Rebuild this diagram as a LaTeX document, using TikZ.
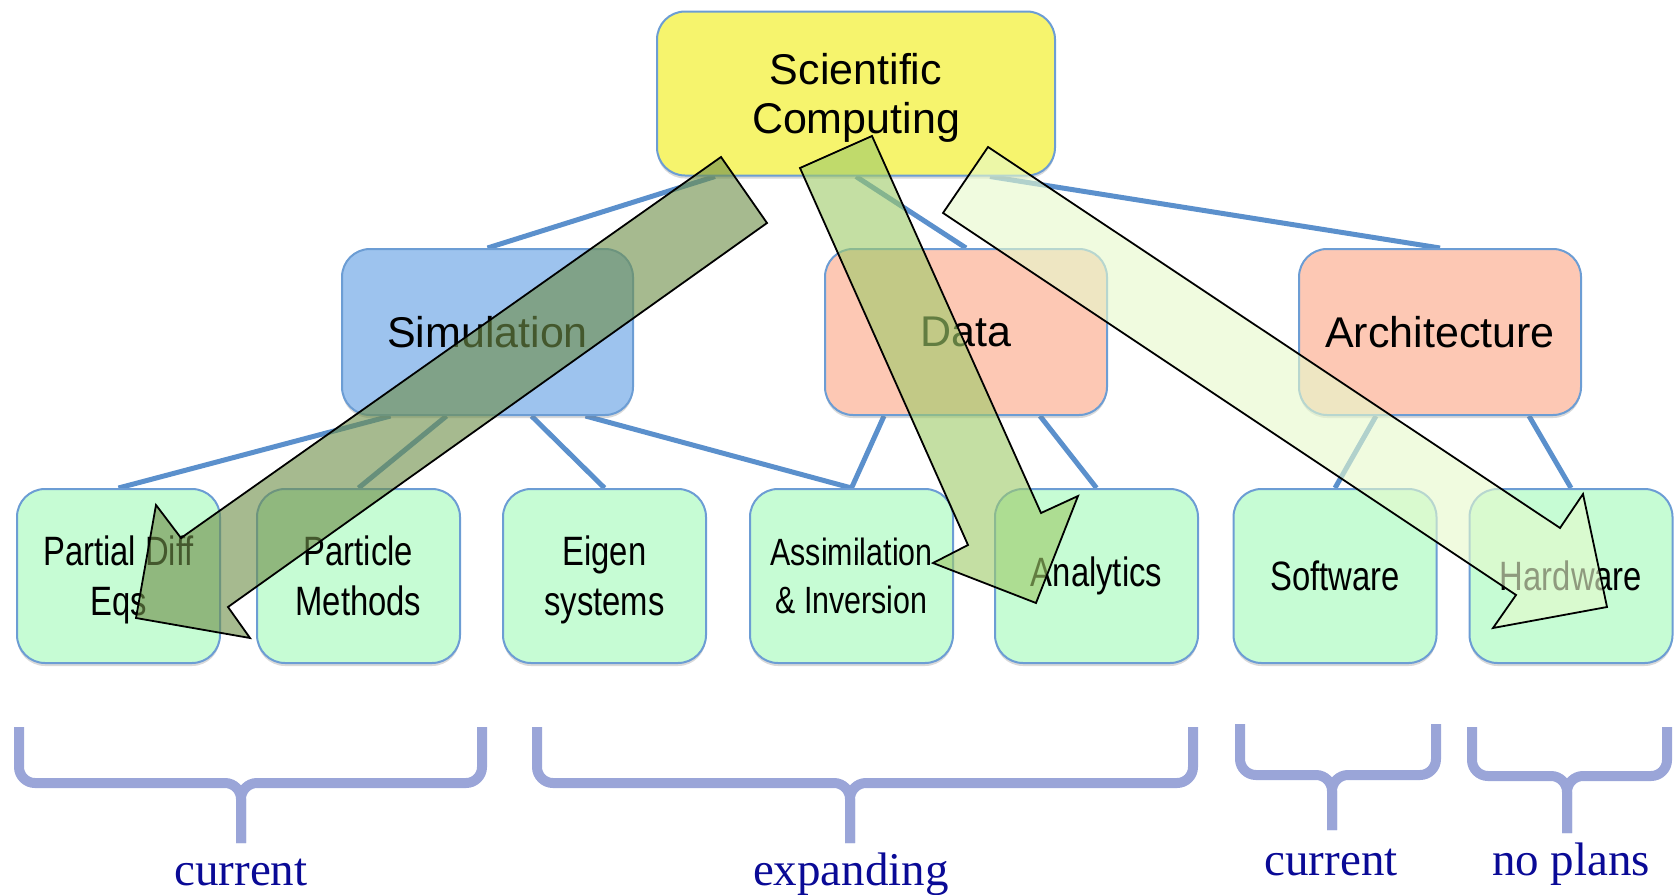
\documentclass[tikz,border=0pt]{standalone}
\usepackage{fontspec}
\setmainfont{Liberation Serif}
\newfontfamily\boxfont{Liberation Sans}
\newfontfamily\narrowfont[FakeStretch=0.8]{Liberation Sans}
\usetikzlibrary{backgrounds,shadows}
\definecolor{boxline}{HTML}{6C9DD4}
\definecolor{edgeblue}{HTML}{5B90CC}
\definecolor{topyellow}{HTML}{F6F46D}
\definecolor{simblue}{HTML}{9DC3EE}
\definecolor{salmon}{HTML}{FDC8B4}
\definecolor{leafgreen}{HTML}{C6FCD4}
\definecolor{arrowdark}{HTML}{6F8F4A}
\definecolor{arrowmid}{HTML}{9FCB6A}
\definecolor{arrowpale}{HTML}{E6F9CC}
\definecolor{bracecol}{HTML}{9AA5D8}
\definecolor{tagblue}{HTML}{0A0A96}

\begin{document}
\begin{tikzpicture}[x=1pt,y=-1pt,
box/.style={draw=boxline,line width=2pt,rounded corners=28pt,align=center,inner sep=0pt,
  drop shadow={shadow xshift=0pt,shadow yshift=-3pt,opacity=0.3}},
topbox/.style={box,fill=topyellow,minimum width=398pt,minimum height=164pt,
  font=\boxfont\fontsize{43}{49}\selectfont},
midbox/.style={box,minimum width=282pt,minimum height=166pt,
  font=\boxfont\fontsize{43}{49}\selectfont},
leaf/.style={box,fill=leafgreen,minimum width=203pt,minimum height=174pt,
  font=\narrowfont\fontsize{41}{50}\selectfont},
link/.style={draw=edgeblue,line width=5pt},
bigarrow/.style={draw=black,line width=1.8pt,line join=miter,fill opacity=0.62},
brace/.style={draw=bracecol,line width=10pt,rounded corners=16pt},
tag/.style={text=tagblue,font=\fontsize{47}{50}\selectfont,anchor=base}]
\useasboundingbox (0,0) rectangle (1677,894);

\node[topbox] (sc) at (856,93.5) {Scientific\\\smash{Computing}};
\node[midbox,fill=simblue,minimum width=291pt] (sim) at (487.5,332) {Simulation};
\node[midbox,fill=salmon] (dat) at (966,332) {Data};
\node[midbox,fill=salmon] (arch) at (1440,332) {Architecture};

\node[leaf] (pde) at (118.5,576) {Partial Diff\\\smash{Eqs}};
\node[leaf] (part) at (358.5,576) {Particle\\Methods};
\node[leaf] (eig) at (604.5,576) {Eigen\\\smash{systems}};
\node[leaf,font=\narrowfont\fontsize{38}{48}\selectfont] (assim) at (851.5,576) {Assimilation\\\& Inversion};
\node[leaf] (anal) at (1096.5,576) {Analytics};
\node[leaf] (soft) at (1335,576) {Software};
\node[leaf] (hard) at (1571,576) {Hardware};

\begin{scope}[on background layer]
\path[link]
([xshift=-141pt]sc.south) edge (sim.north)
(sc.south) edge (dat.north)
([xshift=134pt]sc.south) edge (arch.north)
([xshift=-97pt]sim.south) edge (pde.north)
([xshift=-41pt]sim.south) edge (part.north)
([xshift=44pt]sim.south) edge (eig.north)
([xshift=98pt]sim.south) edge (assim.north)
([xshift=-82pt]dat.south) edge (assim.north)
([xshift=74pt]dat.south) edge (anal.north)
([xshift=-64pt]arch.south) edge (soft.north)
([xshift=89pt]arch.south) edge (hard.north);
\end{scope}

% block arrows over the tree
\draw[bigarrow,fill=arrowdark] (721,157) -- (181,538) -- (156,505) -- (136,618)
  -- (250,638) -- (228,607) -- (767,223) -- cycle;
\draw[bigarrow,fill=arrowmid] (872,136) -- (1041,513) -- (1078,496) -- (1036,603)
  -- (933,563) -- (968,545) -- (800,168) -- cycle;
\draw[bigarrow,fill=arrowpale] (988,147) -- (1560,528) -- (1583,494) -- (1607,607)
  -- (1493,628) -- (1516,595) -- (943,213) -- cycle;

\foreach \lx/\rx/\ty/\by/\mx/\ey in {19/482/727/783/241/843, 537/1193/727/783/850/843,
  1240/1436/724/775/1332/830, 1472/1667/727/776/1567/833}{
  \draw[brace] (\lx,\ty) -- (\lx,\by) -- (\mx,\by) -- (\mx,\ey);
  \draw[brace] (\rx,\ty) -- (\rx,\by) -- (\mx,\by) -- (\mx,\ey);
}

\node[tag] (cur1) at (241,885) {current};
\node[tag] (expd) at (851,885) {expanding};
\node[tag] (cur2) at (1331,875) {current};
\node[tag] (nopl) at (1571,875) {no plans};
\end{tikzpicture}
\end{document}
